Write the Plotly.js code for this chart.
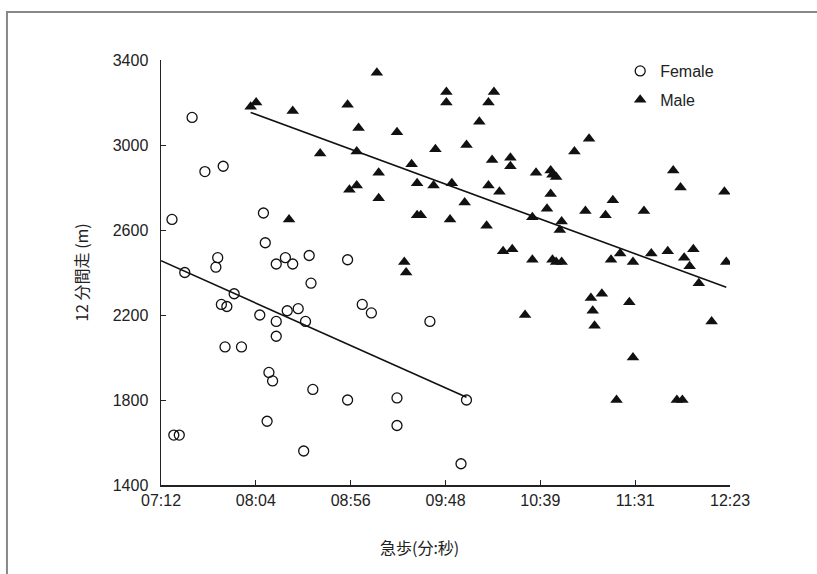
<!DOCTYPE html>
<html>
<head>
<meta charset="utf-8">
<script src="https://cdn.plot.ly/plotly-3.0.1.min.js"></script>
<style>html,body{margin:0;padding:0;background:#fff;}#chart{width:817px;height:574px;}</style>
</head>
<body>
<div id="chart"></div>
<script>
// walking time (seconds) and 12-minute run distance (m)
var femaleTime = [449,456,466,438,488,489,463,462,495,500,504,513,534,445,514,472,465,468,486,501,507,495,511,495,467,476,542,547,579,491,493,515,534,490,439,442,510,561,561,599,596];
var femaleRun  = [3130,2875,2900,2650,2680,2540,2470,2425,2440,2470,2440,2480,2460,2400,2350,2300,2250,2240,2200,2220,2230,2170,2170,2100,2050,2050,2250,2210,2170,1930,1890,1850,1800,1700,1635,1635,1560,1810,1680,1800,1500];
var maleTime = [481,484,504,534,540,519,539,535,539,502,550,561,588,588,614,611,606,582,599,569,551,613,623,623,637,572,581,591,611,617,551,598,572,574,590,610,635,619,624,635,565,566,631,666,658,645,646,648,712,716,740,645,679,643,664,675,696,651,650,646,648,651,678,683,690,700,709,718,723,721,741,726,667,673,668,669,688,733,690,681,714,717];
var maleRun  = [3180,3200,3160,3190,3080,2960,2970,2790,2810,2650,3340,3060,3250,3200,3250,3200,3110,2980,3000,2910,2870,2930,2940,2900,2870,2820,2810,2820,2810,2780,2750,2730,2670,2670,2650,2620,2660,2500,2510,2460,2450,2400,2200,3030,2970,2880,2860,2850,2880,2800,2780,2770,2740,2700,2690,2670,2690,2640,2600,2460,2450,2450,2460,2490,2450,2490,2500,2470,2510,2430,2450,2350,2280,2300,2220,2150,2260,2170,2000,1800,1800,1800];
var tickVals = [432,483.84,535.68,587.52,639.36,691.2,743.04];
var tickText = ["07:12","08:04","08:56","09:48","10:39","11:31","12:23"];
var xMin = 432, xMax = 743.04;

function fit(xs, ys){
  var n = xs.length, sx=0, sy=0, sxx=0, sxy=0;
  for (var i=0;i<n;i++){ sx+=xs[i]; sy+=ys[i]; sxx+=xs[i]*xs[i]; sxy+=xs[i]*ys[i]; }
  var b = (n*sxy - sx*sy)/(n*sxx - sx*sx);
  var a = (sy - b*sx)/n;
  return function(x){ return a + b*x; };
}
var ff = fit(femaleTime, femaleRun);
var fm = fit(maleTime, maleRun);
var fX = [xMin, Math.max.apply(null, femaleTime)];
var mX = [Math.min.apply(null, maleTime), Math.max.apply(null, maleTime)];

var tickFont = {family: '"Liberation Sans Narrow", "Liberation Sans", Arial, sans-serif', size: 16, color: '#222'};

var data = [
  {x: femaleTime, y: femaleRun, type: 'scatter', mode: 'markers', name: 'Female', legendgroup: 'f',
   marker: {symbol: 'circle-open', size: 10, color: '#111', line: {width: 1.3, color: '#111'}}},
  {x: maleTime, y: maleRun, type: 'scatter', mode: 'markers', name: 'Male', legendgroup: 'm',
   marker: {symbol: 'triangle-up', size: 11, color: '#111'}},
  {x: fX, y: fX.map(ff), type: 'scatter', mode: 'lines', showlegend: false,
   line: {color: '#111', width: 1.6}, hoverinfo: 'skip'},
  {x: mX, y: mX.map(fm), type: 'scatter', mode: 'lines', showlegend: false,
   line: {color: '#111', width: 1.6}, hoverinfo: 'skip'}
];

var layout = {
  width: 817, height: 574,
  margin: {l: 161, r: 87, t: 60, b: 89},
  paper_bgcolor: '#fff', plot_bgcolor: '#fff',
  showlegend: true,
  legend: {x: 0.807, y: 1.014, xanchor: 'left', yanchor: 'top', bgcolor: 'rgba(0,0,0,0)',
           font: {family: '"Liberation Sans", Arial, sans-serif', size: 16, color: '#222'},
           itemwidth: 30, traceorder: 'grouped', tracegroupgap: 5},
  xaxis: {range: [xMin, xMax], tickvals: tickVals, ticktext: tickText, showgrid: false, zeroline: false,
          showline: true, linecolor: '#222', linewidth: 1.5, ticks: 'inside', ticklen: 5, tickcolor: '#222',
          tickfont: tickFont},
  yaxis: {range: [1400, 3400], dtick: 400, tick0: 1400, showgrid: false, zeroline: false,
          showline: true, linecolor: '#222', linewidth: 1.5, ticks: 'inside', ticklen: 5, tickcolor: '#222',
          tickfont: tickFont, ticklabelstandoff: 8,
          title: {text: '12 分間走 (m)', standoff: 20,
                  font: {family: '"Noto Sans CJK JP", sans-serif', size: 16, color: '#222'}}},
  annotations: [
    {text: '急歩(分:秒)', xref: 'paper', yref: 'paper', x: 0.455, y: -0.145, xanchor: 'center', yanchor: 'middle',
     showarrow: false, font: {family: '"Noto Sans CJK JP", sans-serif', size: 16, color: '#222'}}
  ],
  shapes: [
    {type: 'path', xref: 'paper', yref: 'paper', path: 'M -0.2707,-0.3 L -0.2707,1.113 L 1.2,1.113',
     line: {color: '#888', width: 2}}
  ]
};

Plotly.newPlot('chart', data, layout, {displayModeBar: false, staticPlot: true});
</script>
</body>
</html>
